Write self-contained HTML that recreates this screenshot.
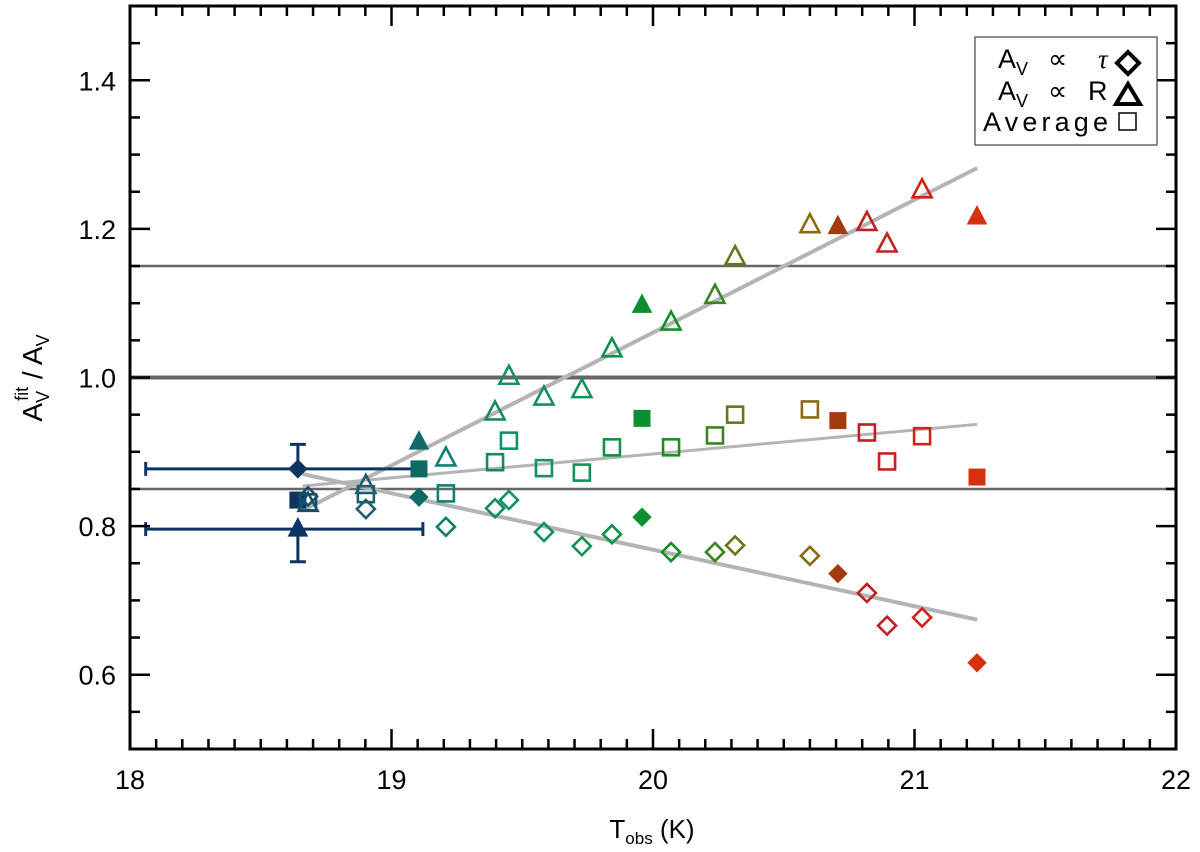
<!DOCTYPE html>
<html><head><meta charset="utf-8"><style>
body{margin:0;background:#fff}
svg{display:block;font-family:"Liberation Sans",sans-serif}
</style></head><body>
<svg id="chart" width="1200" height="852" viewBox="0 0 1200 852">
<g id="grid"></g><g id="fits"></g><g id="marks"></g><g id="axes"></g>
<g>
<rect x="975" y="37" width="182" height="108" fill="#fff" stroke="#444" stroke-width="1.2"/>
<text x="998" y="68" font-size="27">A<tspan font-size="18" dy="7">V</tspan><tspan dy="-7" x="1048">∝</tspan><tspan x="1098" font-style="italic" font-family="Liberation Serif">τ</tspan></text>
<path d="M1128 52 L1139 63 L1128 74 L1117 63 Z" fill="none" stroke="#000" stroke-width="4"/>
<text x="998" y="100" font-size="27">A<tspan font-size="18" dy="7">V</tspan><tspan dy="-7" x="1048">∝</tspan><tspan x="1088">R</tspan></text>
<path d="M1128 84 L1140 104 L1116 104 Z" fill="none" stroke="#000" stroke-width="4"/>
<text x="983" y="131" font-size="27" textLength="125">Average</text>
<rect x="1119" y="113" width="17" height="17" fill="none" stroke="#000" stroke-width="1.5"/>
</g>
<text x="652" y="838" font-size="26" text-anchor="middle">T<tspan font-size="17" dy="6">obs</tspan><tspan dy="-6"> (K)</tspan></text>
<text transform="translate(42,378) rotate(-90)" font-size="28" text-anchor="middle">A<tspan font-size="18" dy="7">V</tspan><tspan font-size="18" dy="-21" dx="-10">fit</tspan><tspan dy="14">  /  A</tspan><tspan font-size="18" dy="7">V</tspan></text>
</svg>
<script>
const temps=[18.642,18.681,18.902,19.105,19.208,19.396,19.449,19.583,19.728,19.843,19.958,20.069,20.237,20.314,20.600,20.707,20.818,20.895,21.029,21.239];
const diamondVals=[0.877,0.840,0.823,0.839,0.799,0.824,0.835,0.792,0.773,0.789,0.812,0.765,0.765,0.774,0.760,0.736,0.710,0.666,0.677,0.616];
const triangleVals=[0.796,0.830,0.854,0.913,0.891,0.953,1.001,0.973,0.983,1.038,1.097,1.074,1.110,1.162,1.205,1.203,1.208,1.179,1.252,1.216];
const squareVals=[0.835,0.832,0.843,0.877,0.844,0.886,0.915,0.878,0.872,0.906,0.945,0.906,0.922,0.950,0.957,0.942,0.926,0.887,0.921,0.866];
const filled=[1,0,0,1,0,0,0,0,0,0,1,0,0,0,0,1,0,0,0,1];
const colors=["#0d3563","#1a4f6a","#1d5f6e","#0f6a66","#108070","#128a66","#12906a","#119060","#119458","#10924a","#0a9030","#14902a","#3d8420","#647818","#8a6a10","#a33a10","#c02020","#c62020","#cc2418","#d53010"];
const fitT=[18.66,21.24];
const fitTri=[0.821,1.282];
const fitSq=[0.854,0.937];
const fitDia=[0.870,0.674];
const refLines=[1.15,1.0,0.85];
const xTicks=[18,19,20,21,22];
const yTicks=[0.6,0.8,1.0,1.2,1.4];
const errT=[18.06,19.12];
const errDia=[0.877,0.910];
const errTri=[0.796,0.752];

const X0=130,X1=1176,Y0=749,Y1=6;
const xs=t=>X0+(t-18)/4*(X1-X0);
const ys=v=>Y0-(v-0.5)/1.0*(Y0-Y1);
const NS="http://www.w3.org/2000/svg";
function mk(tag,parent,attrs){const e=document.createElementNS(NS,tag);for(const k in attrs)e.setAttribute(k,attrs[k]);parent.appendChild(e);return e;}
const grid=document.getElementById('grid'),fits=document.getElementById('fits'),marks=document.getElementById('marks'),axes=document.getElementById('axes');

refLines.forEach((v,i)=>{const l=mk('line',grid,{x1:X0,x2:X1,y1:ys(v),y2:ys(v),stroke:'#666','stroke-width':v===1?4:2.5});

});

[[fitTri,'fit-line-triangle',4],[fitSq,'fit-line-average',3],[fitDia,'fit-line-diamond',4]].forEach(([arr,n,w])=>{
const l=mk('line',fits,{x1:xs(fitT[0]),x2:xs(fitT[1]),y1:ys(arr[0]),y2:ys(arr[1]),stroke:'#b4b4b4','stroke-width':w});

});

const ec='#0d3563';
[[errDia,'error-bar-diamond'],[errTri,'error-bar-triangle']].forEach(([ev,n])=>{
const g=mk('g',marks,{stroke:ec,'stroke-width':3,fill:'none'});


const y=ys(ev[0]),x=xs(temps[0]);
mk('line',g,{x1:xs(errT[0]),x2:xs(errT[1]),y1:y,y2:y});
mk('line',g,{x1:xs(errT[0]),x2:xs(errT[0]),y1:y-7,y2:y+7});
mk('line',g,{x1:xs(errT[1]),x2:xs(errT[1]),y1:y-7,y2:y+7});
mk('line',g,{x1:x,x2:x,y1:y,y2:ys(ev[1])});
mk('line',g,{x1:x-8,x2:x+8,y1:ys(ev[1]),y2:ys(ev[1])});
});

temps.forEach((t,i)=>{
const x=xs(t),c=colors[i],f=filled[i];
const st=f?{fill:c,stroke:c,'stroke-width':1}:{fill:'none',stroke:c,'stroke-width':2.6};
let y=ys(diamondVals[i]);
const d=mk('path',marks,Object.assign({d:`M${x} ${y-9}L${x+9} ${y}L${x} ${y+9}L${x-9} ${y}Z`},st));


y=ys(triangleVals[i]);
const tr=mk('path',marks,Object.assign({d:`M${x} ${y-11}L${x+9.5} ${y+7}L${x-9.5} ${y+7}Z`},st));


y=ys(squareVals[i]);
const s=mk('rect',marks,Object.assign({x:x-8,y:y-8,width:16,height:16},st));


});

const fr=mk('rect',axes,{x:X0,y:Y1,width:X1-X0,height:Y0-Y1,fill:'none',stroke:'#000','stroke-width':3});


for(let k=0;k<=40;k++){const t=18+k*0.1,x=xs(t),L=(k%10===0)?20:10;
mk('line',axes,{x1:x,x2:x,y1:Y0,y2:Y0-L,stroke:'#000','stroke-width':2.5});
mk('line',axes,{x1:x,x2:x,y1:Y1,y2:Y1+L,stroke:'#000','stroke-width':2.5});}
for(let k=0;k<=20;k++){const v=0.5+k*0.05,y=ys(v),L=(k%4===2)?20:10;
mk('line',axes,{x1:X0,x2:X0+L,y1:y,y2:y,stroke:'#000','stroke-width':2.5});
mk('line',axes,{x1:X1,x2:X1-L,y1:y,y2:y,stroke:'#000','stroke-width':2.5});}
xTicks.forEach(t=>{const e=mk('text',axes,{x:xs(t),y:Y0+40,'font-size':27,'text-anchor':'middle'});e.textContent=String(t);

});
yTicks.forEach(v=>{const e=mk('text',axes,{x:X0-14,y:ys(v)+10,'font-size':27,'text-anchor':'end'});e.textContent=v.toFixed(1);

});
</script>
</body></html>
